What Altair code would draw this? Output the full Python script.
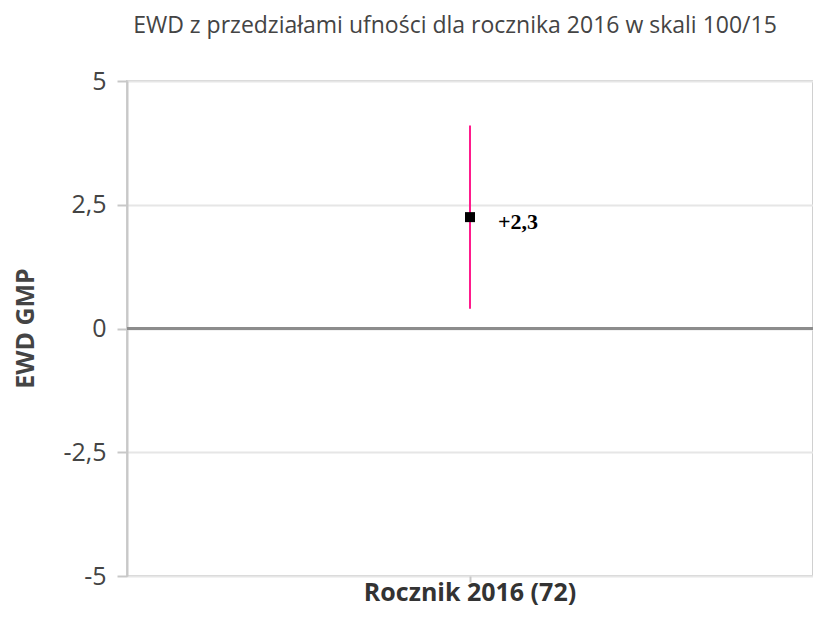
import altair as alt
import pandas as pd

categories = ["Rocznik 2016 (72)"]
ewd = [2.25]
ci_low = [0.4]
ci_high = [4.1]
labels = ["+2,3"]
zero_line = [0]

df = pd.DataFrame({"cat": categories, "ewd": ewd, "lo": ci_low, "hi": ci_high, "lab": labels})
zdf = pd.DataFrame({"z": zero_line})

FONT = "Open Sans"

x_enc = alt.X("cat:N", title=None, scale=alt.Scale(domain=categories),
              axis=alt.Axis(labelFont=FONT, labelFontSize=25, labelFontWeight="bold",
                            labelColor="#333333", labelPadding=-2, tickSize=6, labelLimit=0,
                            tickColor="#c8c8c8", tickWidth=2, domain=False, labelAngle=0))
y_scale = alt.Scale(domain=[-5, 5], nice=False)
y_axis = alt.Axis(values=[-5, -2.5, 0, 2.5, 5], title="EWD GMP",
                  labelExpr="replace(toString(datum.value), '.', ',')",
                  labelFont=FONT, labelFontSize=25, labelColor="#444444", labelPadding=11,
                  tickSize=10, tickColor="#c8c8c8", tickWidth=2,
                  domainColor="#c8c8c8", domainWidth=2,
                  grid=True, gridColor="#e6e6e6", gridWidth=2,
                  titleFont=FONT, titleFontSize=25, titleFontWeight="bold", titleColor="#444444",
                  titleX=-89, titleY=247)

zero = alt.Chart(zdf).mark_rule(color="#8c8c8c", strokeWidth=3).encode(
    y=alt.Y("z:Q", scale=y_scale, axis=y_axis)
)

err = alt.Chart(df).mark_rule(color="#ff1a8c", strokeWidth=2).encode(
    x=x_enc,
    y=alt.Y("lo:Q", scale=y_scale, axis=y_axis),
    y2="hi:Q",
)

pt = alt.Chart(df).mark_square(color="black", size=100, opacity=1).encode(
    x=alt.X("cat:N"), y=alt.Y("ewd:Q", scale=y_scale)
)

txt = alt.Chart(df).mark_text(align="left", baseline="middle", dx=28, dy=5,
                              font="Liberation Serif", fontSize=22, fontWeight="bold",
                              color="black").encode(
    x=alt.X("cat:N"), y=alt.Y("ewd:Q", scale=y_scale), text="lab:N"
)

chart = alt.layer(zero, err, pt, txt).properties(
    width=686, height=495,
    autosize=alt.AutoSizeParams(type="none"),
    padding={"left": 119, "top": 73, "right": 0, "bottom": 30},
    title=alt.TitleParams("EWD z przedziałami ufności dla rocznika 2016 w skali 100/15",
                          font=FONT, fontSize=23, fontWeight="normal", color="#444444",
                          anchor="middle", dx=-15, offset=31),
).configure_view(stroke="#d0d0d0", strokeWidth=2)

chart.save("out.html", embed_options={"renderer": "svg", "actions": False})
